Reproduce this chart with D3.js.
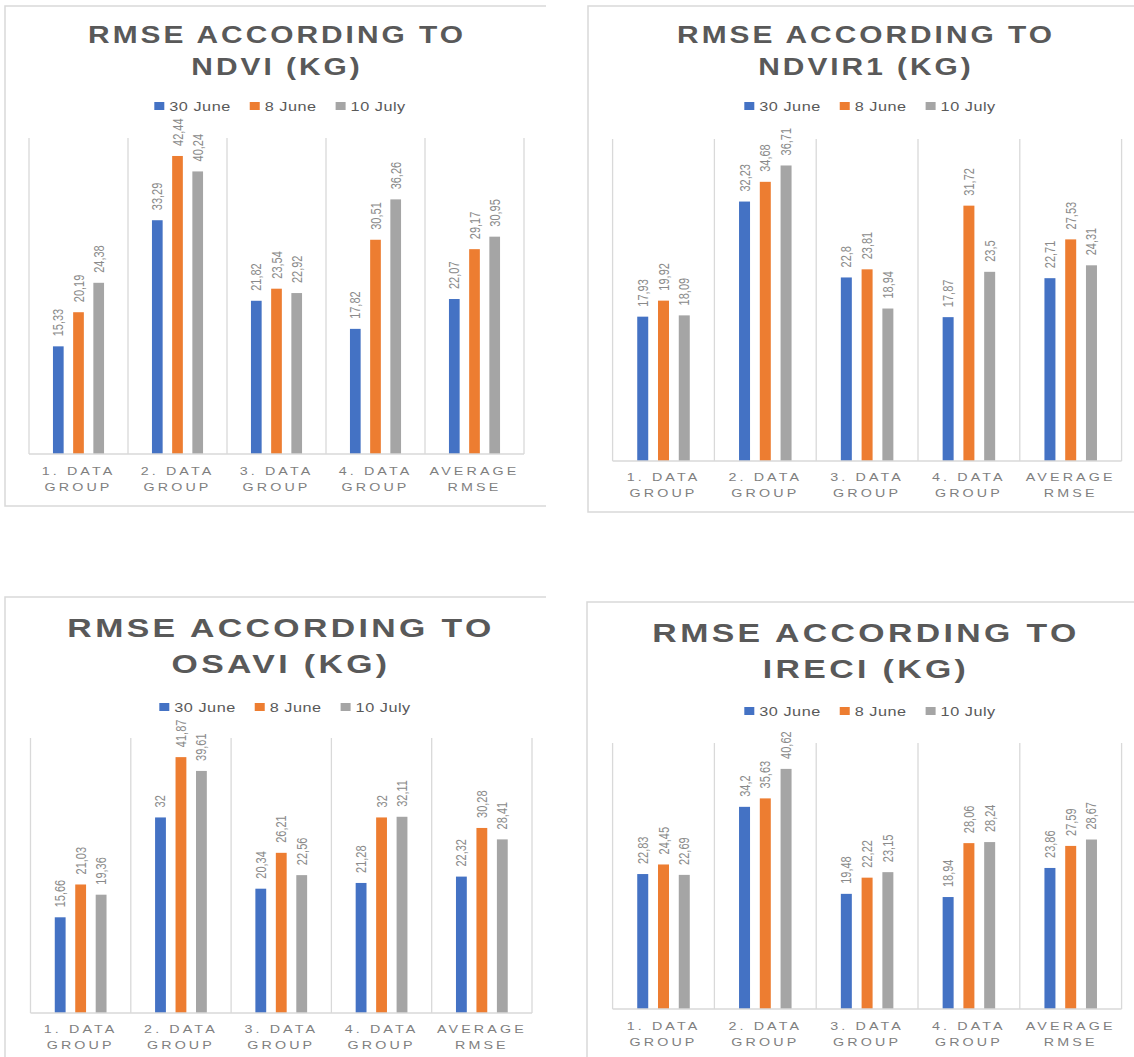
<!DOCTYPE html>
<html>
<head>
<meta charset="utf-8">
<script src="https://cdn.jsdelivr.net/npm/d3@7"></script>
<style>
  html, body { margin: 0; padding: 0; background: #ffffff; }
  svg { display: block; font-family: "Liberation Sans", Arial, sans-serif; }
</style>
</head>
<body>
<svg id="chart" width="1134" height="1057"></svg>
<script>
// Category names (split onto two lines at the last space)
const categories = ["1. DATA GROUP", "2. DATA GROUP", "3. DATA GROUP", "4. DATA GROUP", "AVERAGE RMSE"];
const series = ["30 June", "8 June", "10 July"];
const seriesColors = ["#4472C4", "#ED7D31", "#A5A5A5"];

// RMSE (kg) per index, one array per acquisition date
const ndvi30June = [15.33, 33.29, 21.82, 17.82, 22.07];
const ndvi8June = [20.19, 42.44, 23.54, 30.51, 29.17];
const ndvi10July = [24.38, 40.24, 22.92, 36.26, 30.95];

const ndvir130June = [17.93, 32.23, 22.8, 17.87, 22.71];
const ndvir18June = [19.92, 34.68, 23.81, 31.72, 27.53];
const ndvir110July = [18.09, 36.71, 18.94, 23.5, 24.31];

const osavi30June = [15.66, 32, 20.34, 21.28, 22.32];
const osavi8June = [21.03, 41.87, 26.21, 32, 30.28];
const osavi10July = [19.36, 39.61, 22.56, 32.11, 28.41];

const ireci30June = [22.83, 34.2, 19.48, 18.94, 23.86];
const ireci8June = [24.45, 35.63, 22.22, 28.06, 27.59];
const ireci10July = [22.69, 40.62, 23.15, 28.24, 28.67];

// Value axis maxima per chart
const axisMax = { NDVI: 45, NDVIR1: 40, OSAVI: 45, IRECI: 45 };

// Horizontal stretch applied to text glyphs
const SX = 1.3;

const panels = [
  { name: "NDVI", values: [ndvi30June, ndvi8June, ndvi10July],
    frame: { x0: 5, y0: 6, x1: 546, y1: 506, openRight: true },
    plot: { x0: 29, x1: 524, top: 138, base: 454 },
    title: { x: 277, y1: 43, y2: 75, size: 23 },
    legend: { cx: 280, y: 106 }, catY: [475, 491] },
  { name: "NDVIR1", values: [ndvir130June, ndvir18June, ndvir110July],
    frame: { x0: 588, y0: 6, x1: 1140, y1: 512, openRight: false },
    plot: { x0: 612.6, x1: 1121.6, top: 139, base: 461 },
    title: { x: 866, y1: 43, y2: 75, size: 23 },
    legend: { cx: 870, y: 106 }, catY: [481, 497] },
  { name: "OSAVI", values: [osavi30June, osavi8June, osavi10July],
    frame: { x0: 5, y0: 597, x1: 546, y1: 1075, openRight: true },
    plot: { x0: 30.5, x1: 532, top: 738, base: 1013 },
    title: { x: 281, y1: 637, y2: 673, size: 26 },
    legend: { cx: 285, y: 707 }, catY: [1033, 1049] },
  { name: "IRECI", values: [ireci30June, ireci8June, ireci10July],
    frame: { x0: 587, y0: 602, x1: 1140, y1: 1075, openRight: false },
    plot: { x0: 612.6, x1: 1121.6, top: 743, base: 1009 },
    title: { x: 866, y1: 642, y2: 678, size: 26 },
    legend: { cx: 870, y: 711 }, catY: [1030, 1046] }
];

const svg = d3.select("#chart");
const fmt = v => String(v).replace(".", ",");

panels.forEach(p => {
  const g = svg.append("g");
  const f = p.frame;

  // chart frame
  g.append("path")
    .attr("d", f.openRight
      ? `M${f.x1},${f.y0}H${f.x0}V${f.y1}H${f.x1}`
      : `M${f.x0},${f.y0}H${f.x1}V${f.y1}H${f.x0}Z`)
    .attr("fill", "none").attr("stroke", "#d9d9d9").attr("stroke-width", 1.5);

  // title
  const t = g.append("g").attr("transform", `translate(${p.title.x},0)`);
  [["RMSE ACCORDING TO", p.title.y1], [p.name + " (KG)", p.title.y2]].forEach(([txt, y]) => {
    t.append("text")
      .attr("transform", `translate(0,${y}) scale(${SX},1)`)
      .attr("text-anchor", "middle")
      .attr("font-size", p.title.size)
      .attr("font-weight", "bold")
      .attr("letter-spacing", (p.title.size * 0.1).toFixed(2) + "px")
      .attr("fill", "#595959")
      .text(txt);
  });

  // legend
  const lg = g.append("g");
  const items = series.map((s, i) => {
    const it = lg.append("g");
    it.append("rect").attr("x", 0).attr("y", -4).attr("width", 10).attr("height", 8)
      .attr("fill", seriesColors[i]);
    const tx = it.append("text")
      .attr("transform", `translate(15,4.5) scale(${SX},1)`)
      .attr("font-size", 12.5)
      .attr("letter-spacing", "0.4px")
      .attr("fill", "#595959")
      .text(s);
    const w = 15 + tx.node().getComputedTextLength() * SX;
    return { it, w };
  });
  const gap = 19;
  const total = d3.sum(items, d => d.w) + gap * (items.length - 1);
  let lx = p.legend.cx - total / 2;
  items.forEach(d => {
    d.it.attr("transform", `translate(${lx},${p.legend.y})`);
    lx += d.w + gap;
  });

  // scales
  const x = d3.scaleBand().domain(categories).range([p.plot.x0, p.plot.x1]).padding(0);
  const bw = x.bandwidth();
  const xs = d3.scalePoint().domain(series).range([-0.204 * bw, 0.204 * bw]);
  const barW = 0.108 * bw;
  const y = d3.scaleLinear().domain([0, axisMax[p.name]]).range([p.plot.base, p.plot.top]);

  // category separators
  const seps = categories.map(c => x(c)).concat([p.plot.x1]);
  g.append("g").selectAll("line").data(seps).join("line")
    .attr("x1", d => d).attr("x2", d => d)
    .attr("y1", p.plot.top).attr("y2", p.plot.base)
    .attr("stroke", "#d9d9d9").attr("stroke-width", 1.3);

  // bars
  series.forEach((s, si) => {
    const vals = p.values[si];
    const bg = g.append("g");
    bg.selectAll("rect").data(categories).join("rect")
      .attr("x", c => x(c) + bw / 2 + xs(s) - barW / 2)
      .attr("width", barW)
      .attr("y", (c, i) => y(vals[i]))
      .attr("height", (c, i) => y(0) - y(vals[i]))
      .attr("fill", seriesColors[si]);
    bg.selectAll("text").data(categories).join("text")
      .attr("transform", (c, i) =>
        `translate(${x(c) + bw / 2 + xs(s)},${y(vals[i]) - 10}) scale(${SX},1) rotate(-90)`)
      .attr("dy", "0.35em")
      .attr("font-size", 11)
      .attr("fill", "#8a8a8a")
      .text((c, i) => fmt(vals[i]));
  });

  // baseline
  g.append("line")
    .attr("x1", p.plot.x0).attr("x2", p.plot.x1)
    .attr("y1", p.plot.base).attr("y2", p.plot.base)
    .attr("stroke", "#d9d9d9").attr("stroke-width", 1.5);

  // category labels
  categories.forEach(c => {
    const k = c.lastIndexOf(" ");
    [c.slice(0, k), c.slice(k + 1)].forEach((line, li) => {
      g.append("text")
        .attr("transform", `translate(${x(c) + bw / 2},${p.catY[li]}) scale(${SX},1)`)
        .attr("text-anchor", "middle")
        .attr("font-size", 11)
        .attr("letter-spacing", "2.4px")
        .attr("fill", "#7f7f7f")
        .text(line);
    });
  });
});
</script>
</body>
</html>
